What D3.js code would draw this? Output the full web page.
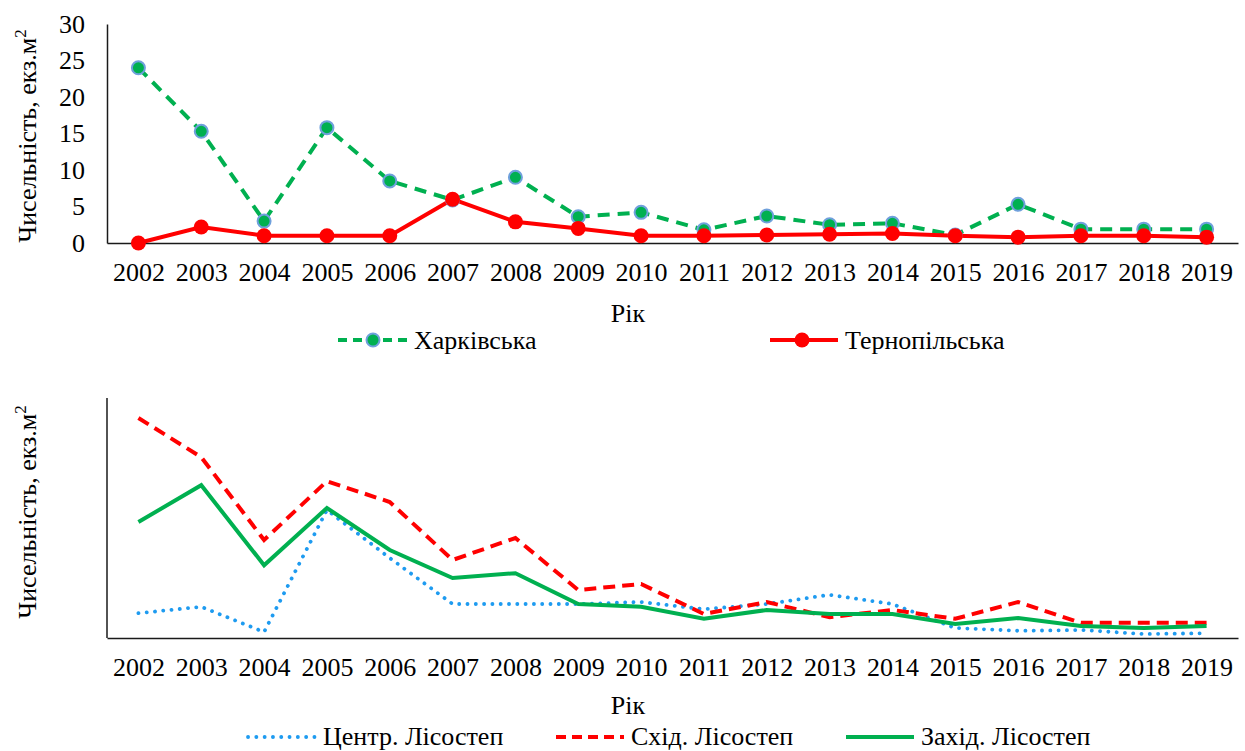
<!DOCTYPE html>
<html>
<head>
<meta charset="utf-8">
<script src="https://cdn.jsdelivr.net/npm/d3@7"></script>
<style>
  body { margin: 0; background: #fff; }
</style>
</head>
<body>
<svg id="chart" width="1245" height="751"></svg>
<script>
// years on the x axis
var years = [2002, 2003, 2004, 2005, 2006, 2007, 2008, 2009, 2010, 2011, 2012, 2013, 2014, 2015, 2016, 2017, 2018, 2019];

// top chart
var kharkiv  = [24, 15.3, 3, 15.8, 8.5, 5.9, 9, 3.6, 4.2, 1.8, 3.7, 2.5, 2.7, 1.1, 5.3, 1.9, 1.9, 1.9];
var ternopil = [0, 2.2, 1, 1, 1, 6, 2.9, 2, 1, 1, 1.1, 1.2, 1.3, 1, 0.8, 1, 1, 0.8];
var topTicks = [0, 5, 10, 15, 20, 25, 30];

// bottom chart (no y tick labels in the picture)
var centr = [3.1, 3.9, 0.75, 16, 10, 4.25, 4.25, 4.25, 4.5, 3.6, 4.25, 5.4, 4.25, 1.25, 0.9, 1, 0.5, 0.6];
var skhid = [27.5, 22.6, 12.25, 19.6, 17, 9.75, 12.5, 6, 6.75, 3, 4.5, 2.6, 3.5, 2.4, 4.5, 1.9, 1.9, 1.9];
var zakhid = [14.5, 19.1, 9.1, 16.25, 11, 7.5, 8.1, 4.25, 3.9, 2.4, 3.5, 3, 3, 1.75, 2.5, 1.5, 1.25, 1.5];

var svg = d3.select("#chart");
var FS = 26;
var FONT = "'Liberation Serif', 'Times New Roman', Times, serif";

var x = d3.scalePoint().domain(years).range([107, 1238]).padding(0.5);

function styleText(sel) {
  sel.style("font-family", FONT).style("font-size", FS + "px").attr("fill", "#000");
  return sel;
}

function yTitle(cx, cy) {
  var t = svg.append("text")
    .attr("transform", "translate(" + cx + "," + cy + ") rotate(-90)")
    .attr("text-anchor", "middle");
  styleText(t);
  t.append("tspan").text("Чисельність, екз.м");
  t.append("tspan").attr("dy", -10).style("font-size", "17px").text("2");
}

function xAxis(yPos, labY) {
  var g = svg.append("g").attr("transform", "translate(0," + yPos + ")")
    .call(d3.axisBottom(x).tickSize(0).tickPadding(20).tickFormat(d3.format("d")));
  g.attr("font-family", FONT);
  g.select(".domain").attr("stroke", "#1a1a1a").attr("stroke-width", 1.5);
  styleText(g.selectAll("text"));
  styleText(svg.append("text").attr("x", 628).attr("y", labY).attr("text-anchor", "middle").text("Рік"));
}

// ---------- top chart ----------
var y1 = d3.scaleLinear().domain([0, 30]).range([243, 24]);

var ya = svg.append("g").attr("transform", "translate(107,0)")
  .call(d3.axisLeft(y1).tickValues(topTicks).tickSize(0).tickPadding(22));
ya.attr("font-family", FONT);
ya.select(".domain").attr("stroke", "#1a1a1a").attr("stroke-width", 1.5);
styleText(ya.selectAll("text"));
xAxis(243, 322);
yTitle(36, 136);

var line1 = d3.line().x(function(d, i) { return x(years[i]); }).y(function(d) { return y1(d); });

svg.append("path").datum(kharkiv).attr("d", line1).attr("fill", "none")
  .attr("stroke", "#00B050").attr("stroke-width", 4).attr("stroke-dasharray", "12,8");
svg.append("path").datum(ternopil).attr("d", line1).attr("fill", "none")
  .attr("stroke", "#FF0000").attr("stroke-width", 4);

svg.selectAll(".mk").data(kharkiv).enter().append("circle")
  .attr("cx", function(d, i) { return x(years[i]); }).attr("cy", function(d) { return y1(d); })
  .attr("r", 6.5).attr("fill", "#00B050").attr("stroke", "#6FA0DC").attr("stroke-width", 2);
svg.selectAll(".mt").data(ternopil).enter().append("circle")
  .attr("cx", function(d, i) { return x(years[i]); }).attr("cy", function(d) { return y1(d); })
  .attr("r", 7.5).attr("fill", "#FF0000");

// legend top
svg.append("line").attr("x1", 338).attr("x2", 408).attr("y1", 340).attr("y2", 340)
  .attr("stroke", "#00B050").attr("stroke-width", 4).attr("stroke-dasharray", "9,6");
svg.append("circle").attr("cx", 373).attr("cy", 340).attr("r", 6.5)
  .attr("fill", "#00B050").attr("stroke", "#6FA0DC").attr("stroke-width", 2);
styleText(svg.append("text").attr("x", 414).attr("y", 349).text("Харківська"));
svg.append("line").attr("x1", 770).attr("x2", 838).attr("y1", 340).attr("y2", 340)
  .attr("stroke", "#FF0000").attr("stroke-width", 4);
svg.append("circle").attr("cx", 802).attr("cy", 340).attr("r", 7.5).attr("fill", "#FF0000");
styleText(svg.append("text").attr("x", 845).attr("y", 349).text("Тернопільська"));

// ---------- bottom chart ----------
var y2 = d3.scaleLinear().domain([0, 30]).range([638, 398]);

svg.append("line").attr("x1", 107).attr("x2", 107).attr("y1", y2(30)).attr("y2", y2(0))
  .attr("stroke", "#1a1a1a").attr("stroke-width", 1.5);
xAxis(638, 714);
yTitle(36, 512);

var line2 = d3.line().x(function(d, i) { return x(years[i]); }).y(function(d) { return y2(d); });

svg.append("path").datum(centr).attr("d", line2).attr("fill", "none")
  .attr("stroke", "#1E9BF0").attr("stroke-width", 3.8).attr("stroke-linecap", "round")
  .attr("stroke-dasharray", "0.1,8.2");
svg.append("path").datum(skhid).attr("d", line2).attr("fill", "none")
  .attr("stroke", "#FF0000").attr("stroke-width", 4).attr("stroke-dasharray", "12,7");
svg.append("path").datum(zakhid).attr("d", line2).attr("fill", "none")
  .attr("stroke", "#00B050").attr("stroke-width", 4);

// legend bottom
var leg2 = [
  { name: "Центр. Лісостеп", color: "#1E9BF0", dash: "0.1,8.2", cap: "round", w: 3.8, x: 248 },
  { name: "Схід. Лісостеп", color: "#FF0000", dash: "10,6", cap: "butt", w: 4, x: 556 },
  { name: "Захід. Лісостеп", color: "#00B050", dash: null, cap: "butt", w: 4, x: 846 }
];
leg2.forEach(function(d) {
  svg.append("line").attr("x1", d.x).attr("x2", d.x + 68).attr("y1", 737).attr("y2", 737)
    .attr("stroke", d.color).attr("stroke-width", d.w).attr("stroke-linecap", d.cap)
    .attr("stroke-dasharray", d.dash);
  styleText(svg.append("text").attr("x", d.x + 75).attr("y", 745).text(d.name));
});
</script>
</body>
</html>
